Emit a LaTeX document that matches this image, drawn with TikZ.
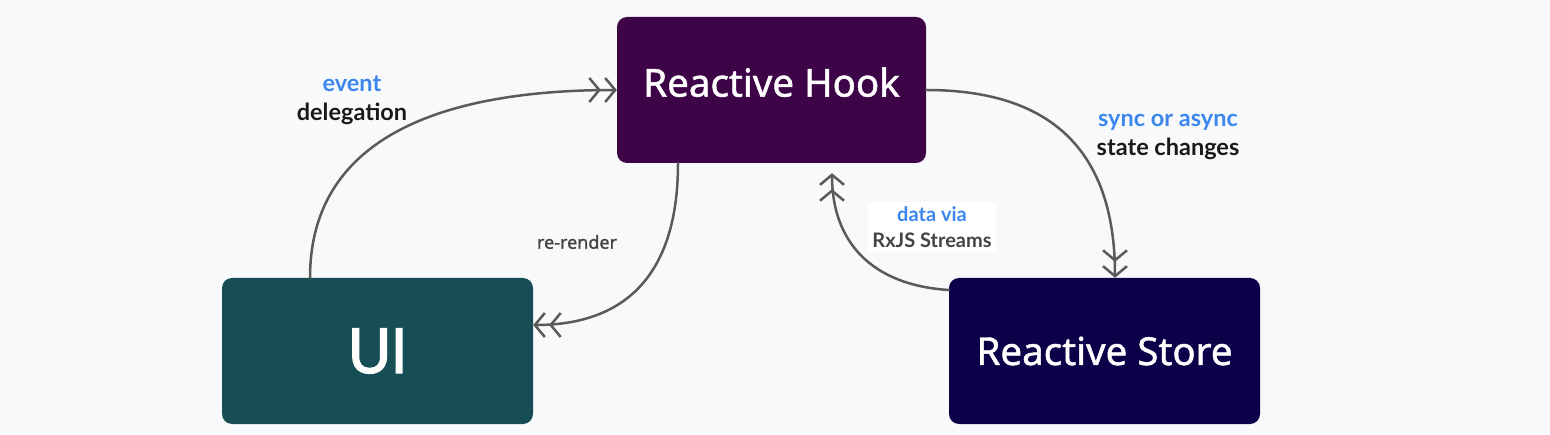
\documentclass[tikz,border=0pt]{standalone}
\usepackage{fontspec}
\usetikzlibrary{arrows.meta}
\newfontfamily\boxfont[FakeBold=1.2]{Noto Sans}
\newfontfamily\uifont[FakeBold=2]{Poppins}
\newfontfamily\labfont{Lato}
\definecolor{bgcol}{HTML}{F8F9FB}
\definecolor{hookcol}{HTML}{3D0547}
\definecolor{uicol}{HTML}{174E56}
\definecolor{storecol}{HTML}{0C0049}
\definecolor{bluetxt}{HTML}{3B87EE}
\definecolor{linecol}{HTML}{5A5A5A}
\definecolor{graytxt}{HTML}{444444}
\tikzset{
  block/.style={rounded corners=10pt, minimum width=309pt, minimum height=146pt, inner sep=0pt, text=white},
  flow/.style={draw=linecol, line width=2.5pt, line cap=round,
    -{Straight Barb[length=10pt,width=24pt,line width=2.5pt,sep=3pt]Straight Barb[length=10pt,width=24pt,line width=2.5pt]}},
  lab/.style={align=center, inner sep=1pt, font=\labfont\bfseries\fontsize{23.5}{29}\selectfont}
}
\begin{document}
\begin{tikzpicture}[x=1pt, y=1pt]
  \fill[bgcol] (0,0) rectangle (1550,434);
  \useasboundingbox (0,0) rectangle (1550,434);
  % blocks
  \node[block, fill=hookcol, font=\boxfont\fontsize{38.5}{48}\selectfont] (hook) at (771.5,344) {\raisebox{16pt}{Reactive Hook}};
  \node[block, fill=uicol, minimum width=311pt, font=\uifont\fontsize{64}{70}\selectfont] (ui) at (377.5,83) {UI};
  \node[block, fill=storecol, minimum width=311pt, font=\boxfont\fontsize{38.5}{44}\selectfont] (store) at (1104.5,83) {\raisebox{-10pt}{Reactive Store}};
  % labels
  \node[lab, fill=white, inner sep=4pt, font=\labfont\bfseries\fontsize{20}{26}\selectfont, text=graytxt] (datalab) at (932,207) {\textcolor{bluetxt}{data via}\\RxJS Streams};
  \node[lab, text=black!90] (eventlab) at (352,334) {\textcolor{bluetxt}{event}\\delegation};
  \node[lab, text=black!90] (synclab) at (1168,297) {\textcolor{bluetxt}{sync or async}\\state changes};
  \node[font=\boxfont\fontsize{18}{22}\selectfont, text=graytxt] (renderlab) at (577,192) {re-render};
  % connectors
  \draw[flow] ([xshift=-67.5pt]ui.north) .. controls +(0,128) and +(-197,0) .. (hook.west);
  \draw[flow] ([xshift=-93.5pt]hook.south) .. controls +(0,-117) and +(87,0) .. ([yshift=26pt]ui.east);
  \draw[flow] (hook.east) .. controls +(134,0) and +(0,118) .. ([xshift=10.5pt]store.north);
  \coordinate (streamend) at ([xshift=60.5pt,yshift=-10pt]hook.south);
  \draw[flow] ([yshift=61pt]store.west) .. controls +(-79,5) and +(0,-67) .. (streamend);
\end{tikzpicture}
\end{document}
